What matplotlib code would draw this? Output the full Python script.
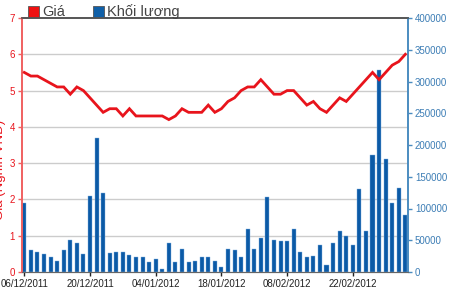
import matplotlib
matplotlib.use("Agg")
import matplotlib.pyplot as plt
from matplotlib.patches import Rectangle
import numpy as np

plt.rcParams['font.family'] = ['Liberation Sans', 'DejaVu Sans']

# Daily trading volume (shares)
volume = [108000, 35000, 32000, 29000, 24000, 17000, 35000, 51000, 45000, 29000,
          120000, 211000, 125000, 30000, 32000, 32000, 27000, 24000, 24000, 16000,
          21000, 5000, 46000, 16000, 37000, 16000, 17000, 23000, 23000, 17000,
          8000, 37000, 34000, 24000, 68000, 37000, 54000, 118000, 51000, 49000,
          49000, 68000, 32000, 23000, 25000, 43000, 11000, 45000, 64000, 56000,
          43000, 131000, 64000, 185000, 318000, 178000, 109000, 133000, 89000]

# Closing price (thousand VND)
price = [5.5, 5.4, 5.4, 5.3, 5.2, 5.1, 5.1, 4.9, 5.1, 5.0,
         4.8, 4.6, 4.4, 4.5, 4.5, 4.3, 4.5, 4.3, 4.3, 4.3,
         4.3, 4.3, 4.2, 4.3, 4.5, 4.4, 4.4, 4.4, 4.6, 4.4,
         4.5, 4.7, 4.8, 5.0, 5.1, 5.1, 5.3, 5.1, 4.9, 4.9,
         5.0, 5.0, 4.8, 4.6, 4.7, 4.5, 4.4, 4.6, 4.8, 4.7,
         4.9, 5.1, 5.3, 5.5, 5.3, 5.5, 5.7, 5.8, 6.0]

tick_index = [0, 10, 20, 30, 40, 50]
tick_labels = ["06/12/2011", "20/12/2011", "04/01/2012", "18/01/2012", "08/02/2012", "22/02/2012"]

price_ticks = [0, 1, 2, 3, 4, 5, 6, 7]
volume_ticks = [0, 50000, 100000, 150000, 200000, 250000, 300000, 350000, 400000]

RED = '#e8141c'
LRED = '#f06060'
BLUE = '#0b5aa6'
SBLUE = '#4a8cc0'

fig = plt.figure(figsize=(4.5, 2.89), dpi=100)
ax = fig.add_axes([22/450, 1-272/289, 386/450, 254/289])
ax2 = ax.twinx()

x = np.arange(len(price))

# Volume bars on right axis (draw behind line)
ax2.bar(x, volume, width=0.62, color=BLUE, edgecolor='#7fb0e0', linewidth=0.3, zorder=2)
ax2.set_ylim(0, 400000)
ax2.set_yticks(volume_ticks)
ax2.set_yticklabels([str(v) for v in volume_ticks], fontsize=7, color='#3c7db5')
ax2.tick_params(axis='y', colors=SBLUE, labelcolor='#3c7db5', length=3, width=1, pad=2)

# Price line on left axis
ax.set_zorder(ax2.get_zorder() + 1)
ax.patch.set_visible(False)
ax.plot(x, price, color=RED, linewidth=2, zorder=5, solid_joinstyle='miter')
ax.set_ylim(0, 7)
ax.set_yticks(price_ticks)
ax.set_yticklabels([str(v) for v in price_ticks], fontsize=7, color=RED)
ax.tick_params(axis='y', colors=LRED, labelcolor=RED, length=3, width=1, pad=2)
ax.set_xlim(-0.35, 58.4)
ax.set_xticks(tick_index)
ax.set_xticklabels(tick_labels, fontsize=7, color='#222222')
ax.tick_params(axis='x', colors='#222222', length=3, width=1, pad=2)

for v in price_ticks[1:-1]:
    ax2.axhline(v / 7 * 400000, color='#cccccc', linewidth=1, zorder=1)

for a in (ax, ax2):
    a.spines['left'].set_color(LRED)
    a.spines['right'].set_color(SBLUE)
    a.spines['top'].set_color('#555555')
    a.spines['bottom'].set_color('#666666')
    a.spines['left'].set_linewidth(1.2)
    a.spines['right'].set_linewidth(1.2)
    a.spines['top'].set_linewidth(1.2)

# Left axis label (partially clipped in reference)
fig.text(-0.014, 1-170/289, "Giá (Nghìn VNĐ)", rotation=90, color=RED,
         fontsize=9.5, ha='left', va='center')

# Legend at top
fig.patches.append(Rectangle((28/450, 1-17/289), 11/450, 11/289, transform=fig.transFigure,
                             facecolor='#ee1111', edgecolor='#555555', linewidth=0.6))
fig.text(42/450, 1-11.5/289, "Giá", fontsize=10.5, color='#444444', ha='left', va='center')
fig.patches.append(Rectangle((93/450, 1-17/289), 11/450, 11/289, transform=fig.transFigure,
                             facecolor='#1060a8', edgecolor='#555555', linewidth=0.6))
fig.text(107/450, 1-11.5/289, "Khối lượng", fontsize=10.5, color='#444444', ha='left', va='center')

fig.savefig("out.png", dpi=100)
